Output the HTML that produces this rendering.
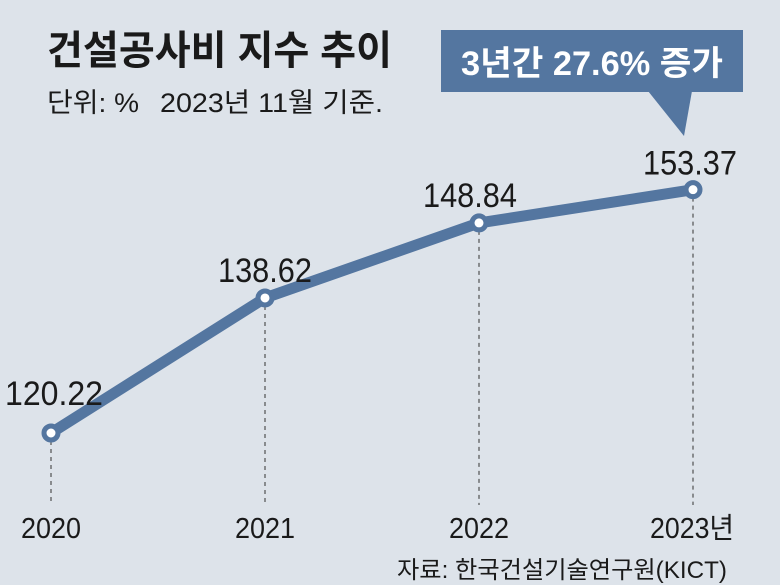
<!DOCTYPE html>
<html><head><meta charset="utf-8"><style>
html,body{margin:0;padding:0;background:#dde3ea;}
svg{display:block;font-family:"Liberation Sans","Noto Sans CJK KR",sans-serif;}
</style></head><body>
<svg width="780" height="585" viewBox="0 0 780 585">
<rect width="780" height="585" fill="#dde3ea"/>
<text x="47" y="64" font-size="40" font-weight="700" fill="#1a1a1a" textLength="345" lengthAdjust="spacingAndGlyphs">건설공사비 지수 추이</text>
<text x="47" y="112" font-size="27" fill="#1a1a1a" textLength="92" lengthAdjust="spacingAndGlyphs">단위: %</text>
<text x="160" y="112" font-size="27" fill="#1a1a1a" textLength="223" lengthAdjust="spacingAndGlyphs">2023년 11월 기준.</text>
<g>
<rect x="441" y="30" width="302" height="62" fill="#5476a0"/>
<polygon points="648,91 692,91 684,136" fill="#5476a0"/>
<text x="592" y="75" font-size="34" font-weight="bold" fill="#fff" text-anchor="middle" textLength="262" lengthAdjust="spacingAndGlyphs">3년간 27.6% 증가</text>
</g>
<g id="plot"></g>
<text x="727" y="578" font-size="24" fill="#1a1a1a" text-anchor="end" textLength="330" lengthAdjust="spacingAndGlyphs">자료: 한국건설기술연구원(KICT)</text>
</svg>
<script>
const categories=["2020","2021","2022","2023년"];
const values=[120.22,138.62,148.84,153.37];
const valueLabels=["120.22","138.62","148.84","153.37"];
const ns="http://www.w3.org/2000/svg";
const g=document.getElementById('plot');
function xs(i){return 51+i*214;}
function ys(v){return 433-(v-120.22)*7.34;}
const labelOff=[[3,-28,98],[0,-16,94],[-9,-16,94],[-3,-15,94]];
function mk(t,a){const e=document.createElementNS(ns,t);for(const k in a)e.setAttribute(k,a[k]);g.appendChild(e);return e;}
categories.forEach((c,i)=>{
 const d=mk('line',{x1:xs(i),y1:ys(values[i]),x2:xs(i),y2:505,stroke:'#333','stroke-width':1,'stroke-dasharray':'4,4'});
 
 
 const t=mk('text',{x:xs(i)+(i==3?-1:0),y:538,'font-size':29,fill:'#1a1a1a','text-anchor':'middle',textLength:i==3?84:60,lengthAdjust:'spacingAndGlyphs'});
 t.textContent=c;
 
 
});
const pts=values.map((v,i)=>xs(i)+','+ys(v)).join(' ');
const pl=mk('polyline',{points:pts,fill:'none',stroke:'#5476a0','stroke-width':11,'stroke-linejoin':'round','stroke-linecap':'round'});


values.forEach((v,i)=>{
 const c=mk('circle',{cx:xs(i),cy:ys(v),r:7,fill:'#fff',stroke:'#5476a0','stroke-width':5});
 
 
 const o=labelOff[i];
 const t=mk('text',{x:xs(i)+o[0],y:ys(v)+o[1],'font-size':34,fill:'#1a1a1a','text-anchor':'middle',textLength:o[2],lengthAdjust:'spacingAndGlyphs'});
 t.textContent=valueLabels[i];
 
 
});
</script>
</body></html>
